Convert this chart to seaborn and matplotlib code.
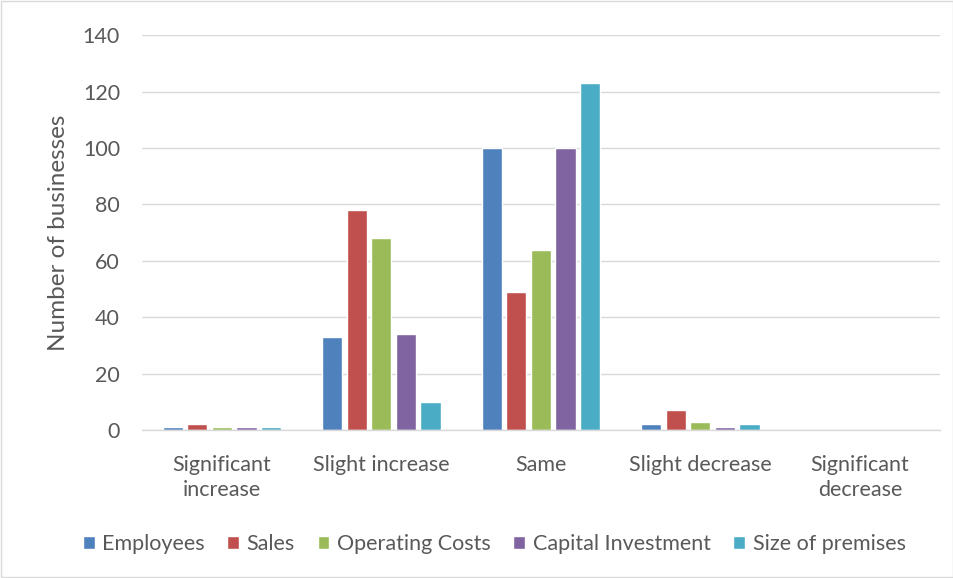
import pandas as pd
import matplotlib.pyplot as plt
import seaborn as sns
from matplotlib.patches import Rectangle

# Chart data
categories = ['Significant\nincrease', 'Slight increase', 'Same', 'Slight decrease', 'Significant\ndecrease']
series = ['Employees', 'Sales', 'Operating Costs', 'Capital Investment', 'Size of premises']
employees = [1, 33, 100, 2, 0]
sales = [2, 78, 49, 7, 0]
operating_costs = [1, 68, 64, 3, 0]
capital_investment = [1, 34, 100, 1, 0]
size_of_premises = [1, 10, 123, 2, 0]

colors = ['#4F81BD', '#C0504D', '#9BBB59', '#8064A2', '#4BACC6']

sns.set_theme(style="white")
plt.rcParams['font.family'] = ['Lato', 'DejaVu Sans']

rows = []
for name, vals in zip(series, [employees, sales, operating_costs, capital_investment, size_of_premises]):
    for cat, v in zip(categories, vals):
        rows.append({'Category': cat, 'Series': name, 'Value': v})
df = pd.DataFrame(rows)

fig = plt.figure(figsize=(9.54, 5.78), dpi=100)
ax = fig.add_axes([0.149, 0.256, 0.836, 0.683])

sns.barplot(data=df, x='Category', y='Value', hue='Series', order=categories,
            hue_order=series, palette=colors, width=0.77, gap=0.18,
            saturation=1, ax=ax, legend=True)

ax.set_ylim(0, 140)
ax.set_yticks(range(0, 141, 20))
ax.yaxis.grid(True, color='#D9D9D9', linewidth=1)
ax.set_axisbelow(True)
for s in ['top', 'right', 'left']:
    ax.spines[s].set_visible(False)
ax.spines['bottom'].set_color('#D9D9D9')
ax.spines['bottom'].set_linewidth(1)
ax.tick_params(axis='both', length=0, labelsize=15.5, colors='#595959')
ax.tick_params(axis='y', pad=16)
ax.tick_params(axis='x', pad=18)
for t in ax.get_xticklabels():
    t.set_linespacing(1.3)
ax.set_xlabel('')
ax.set_ylabel('Number of businesses', fontsize=17.5, color='#595959', labelpad=10)

handles, labels = ax.get_legend_handles_labels()
ax.get_legend().remove()
fig.legend(handles, labels, loc='center', bbox_to_anchor=(0.518, 0.059), ncol=5,
           frameon=False, fontsize=15.5, handlelength=0.55, handleheight=0.55,
           handletextpad=0.35, columnspacing=1.05, labelcolor='#595959')

fig.patches.append(Rectangle((0.001, 0.001), 0.998, 0.997, transform=fig.transFigure,
                             fill=False, edgecolor='#D9D9D9', linewidth=1))

fig.savefig('out.png', dpi=100)
